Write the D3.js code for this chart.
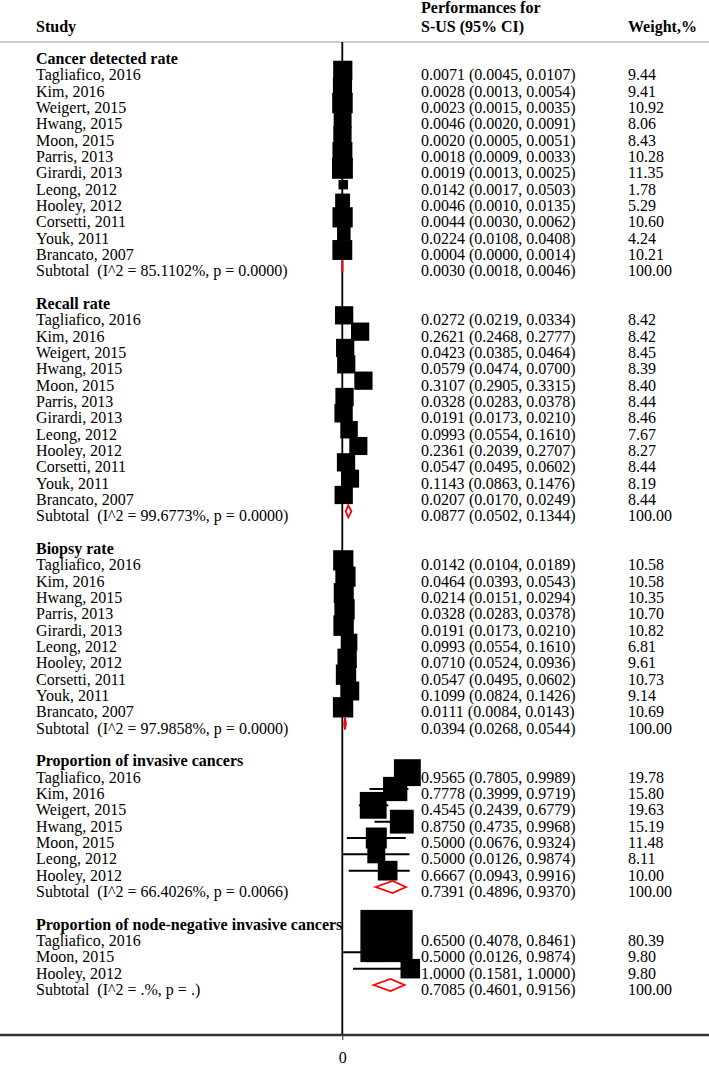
<!DOCTYPE html>
<html>
<head>
<meta charset="utf-8">
<script src="https://cdn.jsdelivr.net/npm/d3@7"></script>
<style>
  html, body { margin: 0; padding: 0; background: #fff; }
  svg { display: block; }
  text { font-family: "Liberation Serif", "Times New Roman", serif; font-size: 16px; fill: #000; white-space: pre; }
</style>
</head>
<body>
<svg id="chart" width="709" height="1066"></svg>
<script>
// ---------------- DATA ----------------
const groupTitles = [
  "Cancer detected rate",
  "Recall rate",
  "Biopsy rate",
  "Proportion of invasive cancers",
  "Proportion of node-negative invasive cancers"
];

const cdrStudies = ["Tagliafico, 2016","Kim, 2016","Weigert, 2015","Hwang, 2015","Moon, 2015","Parris, 2013","Girardi, 2013","Leong, 2012","Hooley, 2012","Corsetti, 2011","Youk, 2011","Brancato, 2007"];
const cdrEst = [0.0071,0.0028,0.0023,0.0046,0.0020,0.0018,0.0019,0.0142,0.0046,0.0044,0.0224,0.0004];
const cdrLo  = [0.0045,0.0013,0.0015,0.0020,0.0005,0.0009,0.0013,0.0017,0.0010,0.0030,0.0108,0.0000];
const cdrHi  = [0.0107,0.0054,0.0035,0.0091,0.0051,0.0033,0.0025,0.0503,0.0135,0.0062,0.0408,0.0014];
const cdrWt  = [9.44,9.41,10.92,8.06,8.43,10.28,11.35,1.78,5.29,10.60,4.24,10.21];

const recStudies = ["Tagliafico, 2016","Kim, 2016","Weigert, 2015","Hwang, 2015","Moon, 2015","Parris, 2013","Girardi, 2013","Leong, 2012","Hooley, 2012","Corsetti, 2011","Youk, 2011","Brancato, 2007"];
const recEst = [0.0272,0.2621,0.0423,0.0579,0.3107,0.0328,0.0191,0.0993,0.2361,0.0547,0.1143,0.0207];
const recLo  = [0.0219,0.2468,0.0385,0.0474,0.2905,0.0283,0.0173,0.0554,0.2039,0.0495,0.0863,0.0170];
const recHi  = [0.0334,0.2777,0.0464,0.0700,0.3315,0.0378,0.0210,0.1610,0.2707,0.0602,0.1476,0.0249];
const recWt  = [8.42,8.42,8.45,8.39,8.40,8.44,8.46,7.67,8.27,8.44,8.19,8.44];

const bioStudies = ["Tagliafico, 2016","Kim, 2016","Hwang, 2015","Parris, 2013","Girardi, 2013","Leong, 2012","Hooley, 2012","Corsetti, 2011","Youk, 2011","Brancato, 2007"];
const bioEst = [0.0142,0.0464,0.0214,0.0328,0.0191,0.0993,0.0710,0.0547,0.1099,0.0111];
const bioLo  = [0.0104,0.0393,0.0151,0.0283,0.0173,0.0554,0.0524,0.0495,0.0824,0.0084];
const bioHi  = [0.0189,0.0543,0.0294,0.0378,0.0210,0.1610,0.0936,0.0602,0.1426,0.0143];
const bioWt  = [10.58,10.58,10.35,10.70,10.82,6.81,9.61,10.73,9.14,10.69];

const invStudies = ["Tagliafico, 2016","Kim, 2016","Weigert, 2015","Hwang, 2015","Moon, 2015","Leong, 2012","Hooley, 2012"];
const invEst = [0.9565,0.7778,0.4545,0.8750,0.5000,0.5000,0.6667];
const invLo  = [0.7805,0.3999,0.2439,0.4735,0.0676,0.0126,0.0943];
const invHi  = [0.9989,0.9719,0.6779,0.9968,0.9324,0.9874,0.9916];
const invWt  = [19.78,15.80,19.63,15.19,11.48,8.11,10.00];

const nodStudies = ["Tagliafico, 2016","Moon, 2015","Hooley, 2012"];
const nodEst = [0.6500,0.5000,1.0000];
const nodLo  = [0.4078,0.0126,0.1581];
const nodHi  = [0.8461,0.9874,1.0000];
const nodWt  = [80.39,9.80,9.80];

const subtotalLabels = [
  "Subtotal  (I^2 = 85.1102%, p = 0.0000)",
  "Subtotal  (I^2 = 99.6773%, p = 0.0000)",
  "Subtotal  (I^2 = 97.9858%, p = 0.0000)",
  "Subtotal  (I^2 = 66.4026%, p = 0.0066)",
  "Subtotal  (I^2 = .%, p = .)"
];
const subtotalEst = [0.0030,0.0877,0.0394,0.7391,0.7085];
const subtotalLo  = [0.0018,0.0502,0.0268,0.4896,0.4601];
const subtotalHi  = [0.0046,0.1344,0.0544,0.9370,0.9156];
const subtotalWt  = [100,100,100,100,100];

const xTicks = [0];

// ---------------- BUILD ROWS ----------------
const groups = [
  {names: cdrStudies, est: cdrEst, lo: cdrLo, hi: cdrHi, wt: cdrWt},
  {names: recStudies, est: recEst, lo: recLo, hi: recHi, wt: recWt},
  {names: bioStudies, est: bioEst, lo: bioLo, hi: bioHi, wt: bioWt},
  {names: invStudies, est: invEst, lo: invLo, hi: invHi, wt: invWt},
  {names: nodStudies, est: nodEst, lo: nodLo, hi: nodHi, wt: nodWt}
];

const rows = [];
let r = 0;
groups.forEach((g, gi) => {
  rows.push({type: "title", row: r++, label: groupTitles[gi]});
  g.names.forEach((n, i) => {
    rows.push({type: "study", row: r++, label: n, est: g.est[i], lo: g.lo[i], hi: g.hi[i], wt: g.wt[i]});
  });
  rows.push({type: "subtotal", row: r++, label: subtotalLabels[gi], est: subtotalEst[gi], lo: subtotalLo[gi], hi: subtotalHi[gi], wt: subtotalWt[gi]});
  if (gi < groups.length - 1) r++;
});
const lastRow = r - 1;

// ---------------- SCALES ----------------
const W = 709, H = 1066;
const svg = d3.select("#chart");
const x = d3.scaleLinear().domain([0, 1]).range([342.3, 410.3]);
const y = d3.scaleLinear().domain([0, lastRow]).range([54, 985]);
const boxSize = d3.scaleSqrt().domain([0, 100]).range([0, 56]);
const f4 = d3.format(".4f"), f2 = d3.format(".2f");

const colStudy = 36, colCI = 421, colWt = 628;
const headerLineY = 42, axisY = 1035;

// ---------------- HEADER ----------------
const hdr = svg.append("g");
hdr.append("text").attr("x", colStudy).attr("y", 32).style("font-weight", "bold").text("Study");
hdr.append("text").attr("x", colCI).attr("y", 13).style("font-weight", "bold").text("Performances for");
hdr.append("text").attr("x", colCI).attr("y", 32).style("font-weight", "bold").text("S-US (95% CI)");
hdr.append("text").attr("x", colWt).attr("y", 32).style("font-weight", "bold").text("Weight,%");

svg.append("line").attr("x1", 0).attr("x2", W).attr("y1", headerLineY).attr("y2", headerLineY)
  .attr("stroke", "#bdbdbd").attr("stroke-width", 1.6);

// ---------------- TEXT ----------------
const tg = svg.append("g");
rows.forEach(d => {
  const by = y(d.row) + 10;
  tg.append("text").attr("x", colStudy).attr("y", by)
    .style("font-weight", d.type === "title" ? "bold" : "normal")
    .text(d.label);
  if (d.type !== "title") {
    tg.append("text").attr("x", colCI).attr("y", by)
      .text(`${f4(d.est)} (${f4(d.lo)}, ${f4(d.hi)})`);
    tg.append("text").attr("x", colWt).attr("y", by).text(f2(d.wt));
  }
});

// ---------------- REFERENCE LINE ----------------
svg.append("line").attr("x1", x(0)).attr("x2", x(0)).attr("y1", headerLineY).attr("y2", axisY)
  .attr("stroke", "#000").attr("stroke-width", 1.8);

// ---------------- MARKS ----------------
const studies = rows.filter(d => d.type === "study");
const subs = rows.filter(d => d.type === "subtotal");

svg.append("g").selectAll("line").data(studies).join("line")
  .attr("x1", d => x(d.lo)).attr("x2", d => x(d.hi))
  .attr("y1", d => y(d.row)).attr("y2", d => y(d.row))
  .attr("stroke", "#000").attr("stroke-width", 2);

svg.append("g").selectAll("rect").data(studies).join("rect")
  .attr("x", d => x(d.est) - (boxSize(d.wt) + 2) / 2)
  .attr("y", d => y(d.row) - (boxSize(d.wt) + 2) / 2)
  .attr("width", d => boxSize(d.wt) + 2)
  .attr("height", d => boxSize(d.wt) + 2)
  .attr("fill", "#000");

svg.append("g").selectAll("path").data(subs).join("path")
  .attr("d", d => {
    const cy = y(d.row), h = 6;
    return `M${x(d.lo)},${cy}L${x(d.est)},${cy - h}L${x(d.hi)},${cy}L${x(d.est)},${cy + h}Z`;
  })
  .attr("fill", "none").attr("stroke", "#ff0000").attr("stroke-width", 1.8);

// ---------------- AXIS ----------------
svg.append("line").attr("x1", 0).attr("x2", W).attr("y1", axisY).attr("y2", axisY)
  .attr("stroke", "#333").attr("stroke-width", 2.5);

const axis = svg.append("g").attr("transform", `translate(0,${axisY})`)
  .call(d3.axisBottom(x).tickValues(xTicks).tickFormat(d3.format("d")).tickSize(5).tickPadding(12));
axis.select(".domain").remove();
axis.selectAll(".tick line").attr("stroke", "#333").attr("stroke-width", 1);
axis.selectAll(".tick text").attr("fill", "#000")
  .style("font-family", '"Liberation Serif", "Times New Roman", serif').style("font-size", "16px");
</script>
</body>
</html>
